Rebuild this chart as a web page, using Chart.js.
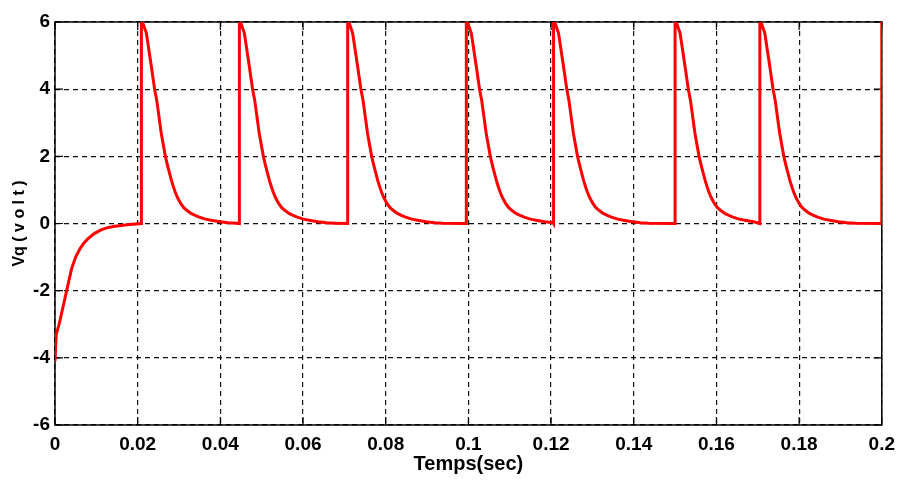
<!DOCTYPE html>
<html>
<head>
<meta charset="utf-8">
<title>Vq</title>
<script src="https://cdn.jsdelivr.net/npm/chart.js@4/dist/chart.umd.min.js"></script>
<style>
  html, body { margin: 0; padding: 0; background: #fff; }
  #wrap { width: 903px; height: 483px; position: relative; }
</style>
</head>
<body>
<div id="wrap"><canvas id="vqChart"></canvas></div>
<script>
// --- data (time in sec, voltage in volt) ---
const startTimes = [0, 0.0003, 0.001, 0.002, 0.003, 0.004, 0.005, 0.006, 0.007, 0.008, 0.0095, 0.011, 0.0125, 0.0145, 0.018, 0.0209];
const startValues = [-4.1, -3.3, -3.0, -2.45, -1.9, -1.35, -1.0, -0.76, -0.58, -0.45, -0.3, -0.2, -0.13, -0.08, -0.03, 0];

// one pulse: offsets from its onset and the voltage read at each
const pulseOffsets = [0, 0.0004, 0.0012, 0.0024, 0.0032, 0.0037, 0.0048, 0.0058, 0.0063, 0.0068, 0.0073, 0.0078, 0.0082, 0.0087, 0.0095, 0.0102, 0.0109, 0.012, 0.013, 0.014, 0.0155, 0.0172, 0.019, 0.021, 0.023];
const pulseValues = [6, 5.95, 5.67, 4.68, 4.0, 3.68, 2.69, 2.0, 1.74, 1.5, 1.27, 1.07, 0.93, 0.78, 0.6, 0.48, 0.4, 0.3, 0.24, 0.19, 0.13, 0.09, 0.05, 0.02, 0.01];
const pulseOnsets = [0.0209, 0.0446, 0.0708, 0.0995, 0.1206, 0.1500, 0.1705];
const endTime = 0.2;
const endValue = 6;

const xTicks = [0, 0.02, 0.04, 0.06, 0.08, 0.1, 0.12, 0.14, 0.16, 0.18, 0.2];
const yTicks = [-6, -4, -2, 0, 2, 4, 6];

// build the point list for the line
const points = [];
startTimes.forEach(function (t, i) { points.push({ x: t, y: startValues[i] }); });
pulseOnsets.forEach(function (t0, k) {
    const next = k + 1 < pulseOnsets.length ? pulseOnsets[k + 1] : endTime;
    points.push({ x: t0, y: 0 });
    pulseOffsets.forEach(function (dt, i) {
        if (t0 + dt < next) points.push({ x: t0 + dt, y: pulseValues[i] });
    });
    points.push({ x: next, y: 0 });
});
points.push({ x: endTime, y: endValue });

// solid box and inward tick marks, drawn under the line
const frameTicks = {
    id: 'frameTicks',
    beforeDatasetsDraw: function (chart) {
        const ctx = chart.ctx;
        const a = chart.chartArea;
        const xs = chart.scales.x, ys = chart.scales.y;
        ctx.save();
        ctx.strokeStyle = '#000';
        ctx.lineWidth = 1.5;
        ctx.setLineDash([]);
        ctx.strokeRect(a.left, a.top, a.right - a.left, a.bottom - a.top);
        ctx.lineWidth = 1.2;
        ctx.beginPath();
        xTicks.forEach(function (v) {
            const px = xs.getPixelForValue(v);
            ctx.moveTo(px, a.bottom); ctx.lineTo(px, a.bottom - 8);
            ctx.moveTo(px, a.top); ctx.lineTo(px, a.top + 8);
        });
        yTicks.forEach(function (v) {
            const py = ys.getPixelForValue(v);
            ctx.moveTo(a.left, py); ctx.lineTo(a.left + 8, py);
            ctx.moveTo(a.right, py); ctx.lineTo(a.right - 8, py);
        });
        ctx.stroke();
        ctx.restore();
    }
};

const tickFont = { family: '"Liberation Sans", Arial, sans-serif', size: 19, weight: 'bold' };

new Chart(document.getElementById('vqChart'), {
    type: 'scatter',
    data: {
        datasets: [{
            data: points,
            showLine: true,
            borderColor: '#ff0000',
            borderWidth: 3,
            pointRadius: 0,
            tension: 0
        }]
    },
    options: {
        responsive: true,
        maintainAspectRatio: false,
        animation: false,
        layout: { padding: { top: 22, right: 17, left: 0, bottom: 0 } },
        plugins: {
            legend: { display: false },
            tooltip: { enabled: false }
        },
        scales: {
            x: {
                type: 'linear',
                min: 0,
                max: 0.2,
                afterBuildTicks: function (scale) {
                    scale.ticks = xTicks.map(function (v) { return { value: v }; });
                },
                afterFit: function (scale) { scale.height = 58; },
                ticks: {
                    color: '#000',
                    font: tickFont,
                    padding: 8,
                    maxRotation: 0,
                    autoSkip: false,
                    callback: function (v) { return String(Number(v.toFixed(2))); }
                },
                grid: { color: '#111', lineWidth: 1.2, drawTicks: false },
                border: { display: false, dash: [5, 4] },
                title: {
                    display: true,
                    text: 'Temps(sec)',
                    color: '#000',
                    font: { family: '"Liberation Sans", Arial, sans-serif', size: 20, weight: 'bold' },
                    padding: { top: 0, bottom: 7 }
                }
            },
            y: {
                min: -6,
                max: 6,
                afterBuildTicks: function (scale) {
                    scale.ticks = yTicks.map(function (v) { return { value: v }; });
                },
                afterFit: function (scale) { scale.width = 55; },
                ticks: {
                    color: '#000',
                    font: tickFont,
                    padding: 5
                },
                grid: { color: '#111', lineWidth: 1.2, drawTicks: false },
                border: { display: false, dash: [5, 4] },
                title: {
                    display: true,
                    text: 'Vq ( v o l t )',
                    color: '#000',
                    font: { family: '"Liberation Sans", Arial, sans-serif', size: 16, weight: 'bold' },
                    padding: { top: 10, bottom: 4 }
                }
            }
        }
    },
    plugins: [frameTicks]
});
</script>
</body>
</html>
